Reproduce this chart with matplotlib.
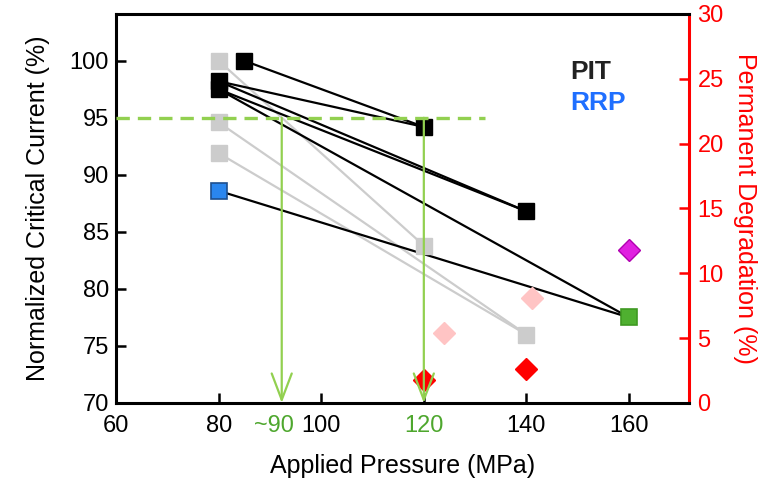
import matplotlib
matplotlib.use('Agg')
import matplotlib.pyplot as plt
from matplotlib.transforms import ScaledTranslation

plt.rcParams['font.family'] = ['Liberation Sans', 'DejaVu Sans']

# ---- data ----
# PIT (black) critical current points
pit_x = [85, 80, 80, 120, 140]
pit_y = [100.0, 98.2, 97.5, 94.2, 86.8]
# PIT connecting lines (start -> end)
pit_x0 = [85, 80, 80, 80, 80]
pit_y0 = [100.0, 98.2, 98.2, 97.5, 97.5]
pit_x1 = [120, 120, 140, 140, 160]
pit_y1 = [94.2, 94.2, 86.8, 86.8, 77.5]

# gray (faded) points and lines
gray_x = [80, 80, 80, 120, 140]
gray_y = [100.0, 94.6, 91.9, 83.8, 76.0]
gray_x0 = [80, 80, 80]
gray_y0 = [100.0, 94.6, 91.9]
gray_x1 = [120, 140, 140]
gray_y1 = [83.8, 76.0, 76.0]

# RRP (blue) point and its line to the green point
rrp_x = [80]
rrp_y = [88.6]
rrp_x1 = [160]
rrp_y1 = [77.5]
green_x = [160]
green_y = [77.5]

# permanent degradation (right axis)
red_x = [120, 140]
red_y = [1.8, 2.6]
pink_x = [124, 141]
pink_y = [5.4, 8.1]
mag_x = [160]
mag_y = [11.8]

# threshold / arrows
threshold = 95
thr_xmax = 132
arrow_x = [92.3, 120]

xticks = [60, 80, 100, 120, 140, 160]
yticks = [70, 75, 80, 85, 90, 95, 100]
rticks = [0, 5, 10, 15, 20, 25, 30]

GREEN = '#92D050'
GREEN_TXT = '#4ea72e'

fig = plt.figure(figsize=(7.71, 4.87), dpi=100)
ax = fig.add_axes([0.1505, 0.1725, 0.7432, 0.7988])
ax2 = ax.twinx()
ax.set_zorder(ax2.get_zorder() + 1)
ax.patch.set_visible(False)

ax.set_xlim(60, 171.7)
ax.set_ylim(70, 104.1)
ax2.set_ylim(0, 30)

# gray lines
for a, b, c, d in zip(gray_x0, gray_y0, gray_x1, gray_y1):
    ax.plot([a, c], [b, d], color='#cccccc', lw=1.6, zorder=2)
# black lines
for a, b, c, d in zip(pit_x0, pit_y0, pit_x1, pit_y1):
    ax.plot([a, c], [b, d], color='black', lw=1.6, zorder=3)
for a, b, c, d in zip(rrp_x, rrp_y, rrp_x1, rrp_y1):
    ax.plot([a, c], [b, d], color='black', lw=1.6, zorder=3)

ax.plot(gray_x, gray_y, 's', color='#cccccc', ms=12, mec='#cccccc', zorder=4)
ax.plot(pit_x, pit_y, 's', color='black', ms=11.5, zorder=5)
ax.plot(rrp_x, rrp_y, 's', color='#2a86ee', ms=11.5, mec='#1d4f8f', mew=1.2, zorder=5)
ax.plot(green_x, green_y, 's', color='#4fb030', ms=11.5, mec='#3f9a22', mew=1.2, zorder=5)

# degradation diamonds (on right scale, drawn via ax2 transform)
ax.plot(pink_x, pink_y, 'D', color='#ffc4c4', ms=11, mec='#ffc4c4',
        transform=ax2.transData, zorder=4)
ax.plot(red_x, red_y, 'D', color='#ff0000', ms=11, mec='#ff0000',
        transform=ax2.transData, zorder=5)
ax.plot(mag_x, mag_y, 'D', color='#e020e0', ms=11, mec='#b000b0', mew=1.0,
        transform=ax2.transData, zorder=5)

# threshold line and arrows
ax.plot([60, thr_xmax], [threshold, threshold], color=GREEN, lw=2.4,
        dashes=(4, 2.4), zorder=6, solid_capstyle='butt')
for xa in arrow_x:
    ax.annotate('', xy=(xa, 70), xytext=(xa, threshold),
                arrowprops=dict(arrowstyle='->,head_length=1.0,head_width=0.38',
                                color=GREEN, lw=1.6, mutation_scale=19,
                                shrinkA=0, shrinkB=0), zorder=7)

# ticks
ax.set_xticks(xticks, labels=[str(t) for t in xticks])
ax.set_xticks([arrow_x[0]], labels=['~90'], minor=True)
ax.set_yticks(yticks, labels=[str(t) for t in yticks])
ax2.set_yticks(rticks, labels=[str(t) for t in rticks])
ax.tick_params(axis='x', which='major', direction='in', length=7, width=1.8,
               labelsize=17, pad=9)
ax.tick_params(axis='y', which='major', direction='in', length=7, width=1.8,
               labelsize=17, pad=5)
ax.tick_params(axis='x', which='minor', length=0, labelsize=17, pad=9,
               labelcolor=GREEN_TXT)
ax.tick_params(axis='y', which='both', right=False)
ax2.tick_params(axis='y', direction='in', length=7, width=1.8, labelsize=17,
                colors='red', pad=6)
for lbl in ax.get_xticklabels():
    if lbl.get_text() == '120':
        lbl.set_color(GREEN_TXT)
shift = ScaledTranslation(-8 / 100, 0, fig.dpi_scale_trans)
for lbl in ax.get_xticklabels(minor=True):
    lbl.set_transform(lbl.get_transform() + shift)

for s in ['left', 'bottom', 'top']:
    ax.spines[s].set_linewidth(2.2)
ax.spines['right'].set_visible(False)
for s in ['left', 'bottom', 'top']:
    ax2.spines[s].set_visible(False)
ax2.spines['right'].set_color('red')
ax2.spines['right'].set_linewidth(2.2)

ax.set_xlabel('Applied Pressure (MPa)', fontsize=18, labelpad=12)
ax.set_ylabel('Normalized Critical Current (%)', fontsize=18, labelpad=14)
ax2.set_ylabel('Permanent Degradation (%)', fontsize=18, color='red',
               rotation=270, labelpad=24)

ax.text(148.5, 99.0, 'PIT', fontsize=19, fontweight='bold', color='#222222',
        va='center', ha='left', zorder=8)
ax.text(148.5, 96.3, 'RRP', fontsize=19, fontweight='bold', color='#1f6fff',
        va='center', ha='left', zorder=8)

fig.savefig('out.png', dpi=100)
